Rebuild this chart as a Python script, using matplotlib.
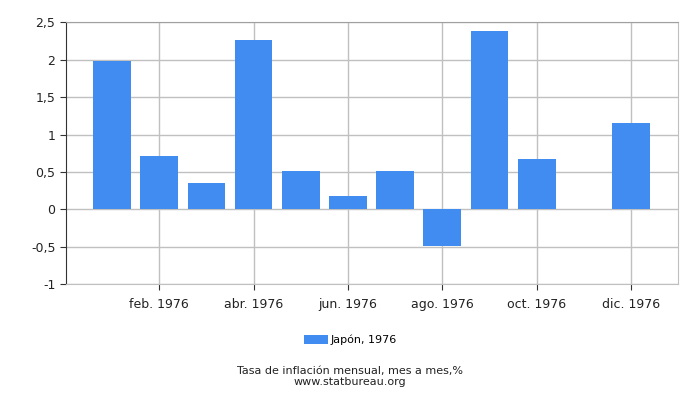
import matplotlib
matplotlib.use("Agg")
import matplotlib.pyplot as plt
import numpy as np

months = ["ene. 1976", "feb. 1976", "mar. 1976", "abr. 1976", "may. 1976", "jun. 1976",
          "jul. 1976", "ago. 1976", "sep. 1976", "oct. 1976", "nov. 1976", "dic. 1976"]
values = [1.99, 0.71, 0.35, 2.27, 0.51, 0.18, 0.51, -0.49, 2.38, 0.67, 0.0, 1.16]
series_name = "Japón, 1976"
yticks = [-1, -0.5, 0, 0.5, 1, 1.5, 2, 2.5]
ytick_labels = ["-1", "-0,5", "0", "0,5", "1", "1,5", "2", "2,5"]

fig = plt.figure(figsize=(7, 4), dpi=100)
ax = fig.add_axes([0.094, 0.29, 0.875, 0.654])

x = np.arange(len(months))
bars = ax.bar(x, values, width=0.8, color="#418cf0", label=series_name, zorder=3)

ax.set_xlim(-0.98, 12)
ax.set_ylim(-1, 2.5)
ax.set_yticks(yticks)
ax.set_yticklabels(ytick_labels, fontsize=9)
ax.set_xticks(x[1::2])
ax.set_xticklabels(months[1::2], fontsize=9)

ax.grid(True, color="#c0c0c0", linewidth=1, zorder=0)
ax.tick_params(axis="both", length=4, color="#333333", labelcolor="#222222")
ax.tick_params(axis="x", pad=6)
for s in ["top", "right"]:
    ax.spines[s].set_color("#c0c0c0")
ax.spines["top"].set_color("#a0a0a0")
ax.spines["left"].set_color("#333333")
ax.spines["bottom"].set_color("#c0c0c0")

fig.legend(handles=[bars], labels=[series_name], loc="center", bbox_to_anchor=(0.5, 0.15),
           frameon=False, fontsize=8, handlelength=2.2, handleheight=0.9, handletextpad=0.2)
fig.text(0.5, 0.073, "Tasa de inflación mensual, mes a mes,%", ha="center", va="center",
         fontsize=8, color="#222222")
fig.text(0.5, 0.046, "www.statbureau.org", ha="center", va="center", fontsize=8, color="#222222")

fig.savefig("out.png", dpi=100)
